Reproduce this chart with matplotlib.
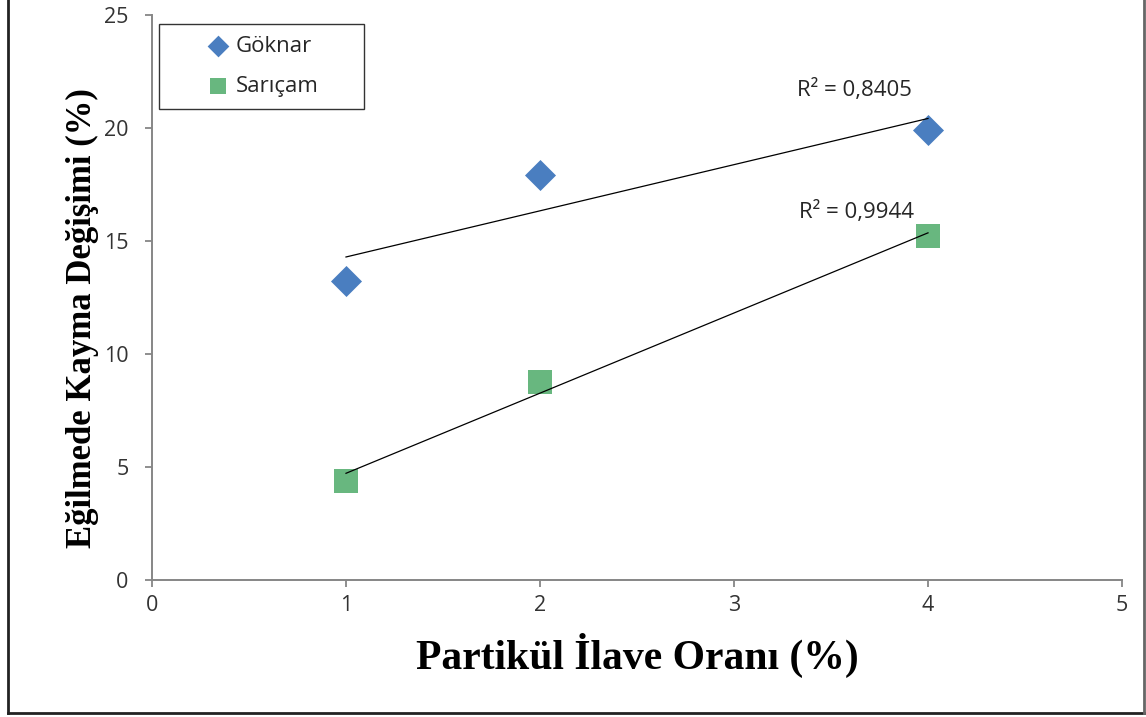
import numpy as np
import matplotlib
matplotlib.use("Agg")
import matplotlib.pyplot as plt
from matplotlib.lines import Line2D

# data
oran = [1, 2, 4]
goknar = [13.25, 17.9, 19.9]
saricam = [4.4, 8.75, 15.2]
r2_labels = ["R² = 0,8405", "R² = 0,9944"]
r2_pos = [(3.62, 21.68), (3.63, 16.28)]

x_ticks = [0, 1, 2, 3, 4, 5]
y_ticks = [0, 5, 10, 15, 20, 25]

BLUE = "#4A7EC0"
GREEN = "#68B77F"
GRAY = "#868686"
SANS = ["Open Sans", "DejaVu Sans"]

fig = plt.figure(figsize=(11.46, 7.17), dpi=100)
ax = fig.add_axes([152 / 1146, 137 / 717, 970 / 1146, 565 / 717])

ax.scatter(oran, goknar, marker="D", s=250, color=BLUE, label="Göknar", zorder=3, linewidths=0)
ax.scatter(oran, saricam, marker="s", s=300, color=GREEN, label="Sarıçam", zorder=3, linewidths=0)

# linear trend lines
xs = np.array([min(oran), max(oran)])
for series in (goknar, saricam):
    k, b = np.polyfit(oran, series, 1)
    ax.plot(xs, k * xs + b, color="black", lw=0.9, zorder=4)

for txt, (tx, ty) in zip(r2_labels, r2_pos):
    ax.text(tx, ty, txt, ha="center", va="center", fontsize=16,
            family=SANS, color="#262626")

ax.set_xlim(0, 5)
ax.set_ylim(0, 25)
ax.set_xticks(x_ticks)
ax.set_yticks(y_ticks)
for lbl in ax.get_xticklabels() + ax.get_yticklabels():
    lbl.set_family(SANS)
    lbl.set_fontsize(15.5)
    lbl.set_color("#333333")
ax.tick_params(direction="out", length=5, width=1.3, color=GRAY, pad=6)
ax.tick_params(axis="y", pad=12)

for side in ("top", "right"):
    ax.spines[side].set_visible(False)
for side in ("left", "bottom"):
    ax.spines[side].set_color(GRAY)
    ax.spines[side].set_linewidth(1.4)

ax.set_xlabel("Partikül İlave Oranı (%)", family="Liberation Serif",
              fontweight="bold", fontsize=30)
ax.set_ylabel("Eğilmede Kayma Değişimi (%)", family="Liberation Serif",
              fontweight="bold", fontsize=25)
ax.xaxis.set_label_coords(0.5, -0.133)
ax.yaxis.set_label_coords(-0.072, 0.464)
ax.xaxis.label.set_va("center")
ax.yaxis.label.set_va("center")

leg = ax.legend(loc="upper left", bbox_to_anchor=(0.007, 0.839, 0.212, 0.145),
                mode="expand", borderaxespad=0,
                prop={"family": SANS, "size": 16}, frameon=True, fancybox=False,
                markerscale=0.7, handletextpad=-1.3, labelspacing=0.85,
                borderpad=0.55, handlelength=4.2)
leg.get_frame().set_edgecolor("black")
leg.get_frame().set_linewidth(1.0)
for t in leg.get_texts():
    t.set_color("#262626")

# outer frame of the picture (top side is cut off in the original)
fw, fh = 1146, 717
fig.add_artist(Line2D([8 / fw, 8 / fw], [4 / fh, 1.0], color="#222222", lw=2,
                      transform=fig.transFigure))
fig.add_artist(Line2D([8 / fw, 1144 / fw], [4 / fh, 4 / fh], color="#222222", lw=2,
                      transform=fig.transFigure))
fig.add_artist(Line2D([1144 / fw, 1144 / fw], [4 / fh, 1.0], color="#666666", lw=2,
                      transform=fig.transFigure))

fig.savefig("out.png", dpi=100)
